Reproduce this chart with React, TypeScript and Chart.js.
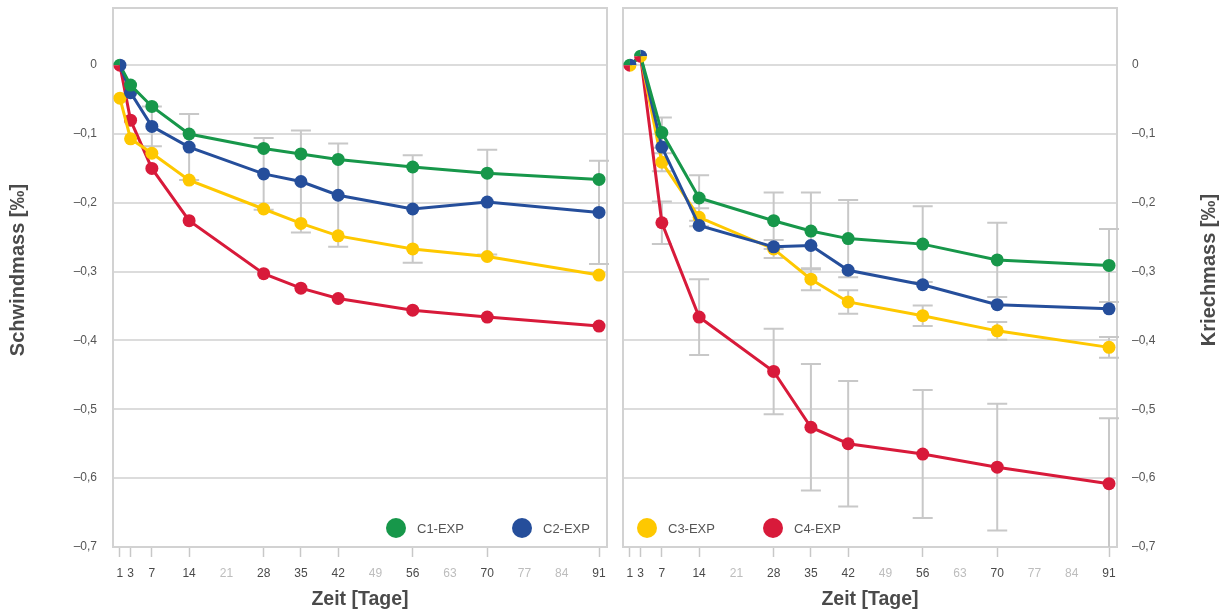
import { useEffect, useRef } from "react";
import { Chart, registerables } from "chart.js";

Chart.register(...registerables);

// Measurement ages in days
const days = [1, 3, 7, 14, 28, 35, 42, 56, 70, 91];
// Ticks on the time axis; weeks without a measurement are shown faint
const xTickDays = [1, 3, 7, 14, 21, 28, 35, 42, 49, 56, 63, 70, 77, 84, 91];
const yTickValues = [-0.7, -0.6, -0.5, -0.4, -0.3, -0.2, -0.1, 0];
const yTickLabels = ["–0,7", "–0,6", "–0,5", "–0,4", "–0,3", "–0,2", "–0,1", "0"];

const seriesNames = ["C1-EXP", "C2-EXP", "C3-EXP", "C4-EXP"];
const seriesColors = ["#17974a", "#254e9b", "#fec800", "#d81a3a"];

// Schwindmass [‰]
const schwindC1 = [0, -0.029, -0.06, -0.1, -0.121, -0.129, -0.137, -0.148, -0.157, -0.166];
const schwindC2 = [0, -0.04, -0.089, -0.119, -0.158, -0.169, -0.189, -0.209, -0.199, -0.214];
const schwindC3 = [-0.048, -0.107, -0.128, -0.167, -0.209, -0.23, -0.248, -0.267, -0.278, -0.305];
const schwindC4 = [0, -0.08, -0.15, -0.226, -0.303, -0.324, -0.339, -0.356, -0.366, -0.379];
const schwindC2Err = [null, null, 0.029, 0.048, 0.052, 0.074, 0.075, 0.078, 0.076, 0.075];

// Kriechmass [‰]
const kriechC1 = [0, 0.013, -0.098, -0.193, -0.226, -0.241, -0.252, -0.26, -0.283, -0.291];
const kriechC2 = [0, 0.013, -0.119, -0.233, -0.264, -0.262, -0.298, -0.319, -0.348, -0.354];
const kriechC3 = [0, 0.013, -0.141, -0.221, -0.267, -0.311, -0.344, -0.364, -0.386, -0.41];
const kriechC4 = [0, 0.013, -0.229, -0.366, -0.445, -0.526, -0.55, -0.565, -0.584, -0.608];
const kriechC1Err = [null, null, 0.022, 0.033, 0.041, 0.056, 0.056, 0.055, 0.054, 0.053];
const kriechC3Err = [null, null, 0.013, 0.013, 0.013, 0.016, 0.017, 0.015, 0.013, 0.015];
const kriechC4Err = [null, null, 0.031, 0.055, 0.062, 0.092, 0.091, 0.093, 0.092, 0.095];

const FONT = "'Liberation Sans', Arial, Helvetica, sans-serif";
const FRAME = "#d2d2d2";
const GRID = "#dcdcdc";
const WHISKER = "#c8c8c8";
const TITLE_COLOR = "#4a4a4a";
const TICK_COLOR = "#4a4a4a";
const FAINT_TICK = "#bdbdbd";

Chart.defaults.font.family = FONT;

type Slice = { series: number; from: number; to: number };
type Panel = {
  side: "left" | "right";
  width: number;
  yTitle: string;
  titleX: number;
  series: number[][];
  errors: { series: number; err: (number | null)[] }[];
  legend: { series: number; dx: number }[];
  sharedCount: number; // leading points drawn as one multi-coloured marker
  slices: Slice[];
  padding: { left: number; right: number; top: number; bottom: number };
  yWidth: number;
};

const H = Math.PI / 2;

const panels: Panel[] = [
  {
    side: "left",
    width: 615,
    yTitle: "Schwindmass [‰]",
    titleX: 18,
    series: [schwindC1, schwindC2, schwindC3, schwindC4],
    errors: [{ series: 1, err: schwindC2Err }],
    legend: [
      { series: 0, dx: 283 },
      { series: 1, dx: 409 },
    ],
    sharedCount: 1,
    slices: [
      { series: 0, from: 2 * H, to: 3 * H },
      { series: 1, from: -H, to: H },
      { series: 3, from: H, to: 2 * H },
    ],
    padding: { left: 0, right: 8, top: 8, bottom: 0 },
    yWidth: 113,
  },
  {
    side: "right",
    width: 609,
    yTitle: "Kriechmass [‰]",
    titleX: 594,
    series: [kriechC1, kriechC2, kriechC3, kriechC4],
    errors: [
      { series: 0, err: kriechC1Err },
      { series: 2, err: kriechC3Err },
      { series: 3, err: kriechC4Err },
    ],
    legend: [
      { series: 2, dx: 24 },
      { series: 3, dx: 150 },
    ],
    sharedCount: 2,
    slices: [
      { series: 0, from: 2 * H, to: 3 * H },
      { series: 1, from: 3 * H, to: 4 * H },
      { series: 2, from: 0, to: H },
      { series: 3, from: H, to: 2 * H },
    ],
    padding: { left: 8, right: 0, top: 8, bottom: 0 },
    yWidth: 107,
  },
];

function buildChart(canvas: HTMLCanvasElement, panel: Panel) {
  const sliceSeries = panel.slices.map((s) => s.series);

  const datasets = panel.series.map((vals, si) => ({
    label: seriesNames[si],
    data: days.map((d, i) => ({ x: d, y: vals[i] })),
    borderColor: seriesColors[si],
    backgroundColor: seriesColors[si],
    pointBackgroundColor: seriesColors[si],
    borderWidth: 3,
    pointBorderWidth: 0,
    pointRadius: vals.map((_, i) =>
      i < panel.sharedCount && sliceSeries.includes(si) ? 0 : 6.5
    ),
    tension: 0,
    clip: false as const,
  }));

  const decor = {
    id: "panelDecor",
    beforeDatasetsDraw(chart: any) {
      const { ctx, chartArea: a, scales } = chart;
      const xs = scales.x;
      const ys = scales.y;
      ctx.save();
      ctx.strokeStyle = FRAME;
      ctx.lineWidth = 2;
      ctx.strokeRect(a.left, a.top, a.right - a.left, a.bottom - a.top);

      ctx.beginPath();
      ctx.rect(a.left - 20, a.top, a.right - a.left + 40, a.bottom - a.top);
      ctx.clip();
      ctx.strokeStyle = WHISKER;
      ctx.lineWidth = 2;
      panel.errors.forEach(({ series, err }) => {
        err.forEach((e, i) => {
          if (e == null) return;
          const v = panel.series[series][i];
          const px = xs.getPixelForValue(days[i]);
          const top = ys.getPixelForValue(v + e);
          const bot = ys.getPixelForValue(v - e);
          ctx.beginPath();
          ctx.moveTo(px, top);
          ctx.lineTo(px, bot);
          ctx.moveTo(px - 10, top);
          ctx.lineTo(px + 10, top);
          ctx.moveTo(px - 10, bot);
          ctx.lineTo(px + 10, bot);
          ctx.stroke();
        });
      });
      ctx.restore();
    },
    afterDatasetsDraw(chart: any) {
      const { ctx, scales } = chart;
      ctx.save();
      for (let i = 0; i < panel.sharedCount; i++) {
        panel.slices.forEach((s) => {
          const px = scales.x.getPixelForValue(days[i]);
          const py = scales.y.getPixelForValue(panel.series[s.series][i]);
          ctx.beginPath();
          ctx.moveTo(px, py);
          ctx.arc(px, py, 6.5, s.from, s.to);
          ctx.closePath();
          ctx.fillStyle = seriesColors[s.series];
          ctx.fill();
        });
      }
      ctx.restore();
    },
    afterDraw(chart: any) {
      const { ctx, chartArea: a } = chart;
      ctx.save();
      // legend inside the plot, along the bottom
      const ly = a.bottom - 19;
      panel.legend.forEach(({ series, dx }) => {
        const cx = a.left + dx;
        ctx.beginPath();
        ctx.arc(cx, ly, 10, 0, 2 * Math.PI);
        ctx.fillStyle = seriesColors[series];
        ctx.fill();
        ctx.fillStyle = "#555555";
        ctx.font = `13px ${FONT}`;
        ctx.textAlign = "left";
        ctx.textBaseline = "middle";
        ctx.fillText(seriesNames[series], cx + 21, ly + 1);
      });
      // vertical axis title, reading bottom to top
      ctx.translate(panel.titleX, 270);
      ctx.rotate(-Math.PI / 2);
      ctx.fillStyle = TITLE_COLOR;
      ctx.font = `bold 20px ${FONT}`;
      ctx.textAlign = "center";
      ctx.textBaseline = "middle";
      ctx.fillText(panel.yTitle, 0, 0);
      ctx.restore();
    },
  };

  return new Chart(canvas, {
    type: "line",
    data: { datasets },
    plugins: [decor],
    options: {
      animation: false,
      responsive: false,
      events: [],
      layout: { padding: panel.padding },
      plugins: {
        legend: { display: false },
        tooltip: { enabled: false },
      },
      scales: {
        x: {
          type: "linear",
          min: -0.3,
          max: 92.5,
          afterBuildTicks: (s: any) => {
            s.ticks = xTickDays.map((v) => ({ value: v }));
          },
          afterFit: (s: any) => {
            s.height = 64;
            s.paddingLeft = 0;
            s.paddingRight = 0;
          },
          border: { display: false },
          grid: {
            drawOnChartArea: false,
            drawTicks: true,
            tickLength: 10,
            tickWidth: 1.5,
            tickColor: (c: any) =>
              c.tick && days.includes(c.tick.value) ? "#c8c8c8" : "rgba(0,0,0,0)",
          },
          ticks: {
            autoSkip: false,
            maxRotation: 0,
            minRotation: 0,
            padding: 9,
            font: { size: 12 },
            color: (c: any) =>
              c.tick && days.includes(c.tick.value) ? TICK_COLOR : FAINT_TICK,
            callback: (v: any) => String(v),
          },
          title: {
            display: true,
            text: "Zeit [Tage]",
            color: TITLE_COLOR,
            font: { size: 19.5, weight: "bold" },
            padding: { top: 0, bottom: 0 },
          },
        },
        y: {
          type: "linear",
          position: panel.side,
          min: -0.7,
          max: 0.083,
          afterBuildTicks: (s: any) => {
            s.ticks = yTickValues.map((v) => ({ value: v }));
          },
          afterFit: (s: any) => {
            s.width = panel.yWidth;
            s.paddingTop = 0;
            s.paddingBottom = 0;
          },
          border: { display: false },
          grid: { color: GRID, lineWidth: 2, drawTicks: false },
          ticks: {
            padding: panel.side === "left" ? 16 : 15,
            font: { size: 12 },
            color: "#555555",
            callback: (v: any) => {
              const k = yTickValues.findIndex((t) => Math.abs(t - v) < 1e-9);
              return k >= 0 ? yTickLabels[k] : "";
            },
          },
        },
      },
    } as any,
  });
}

export default function App() {
  const leftRef = useRef<HTMLCanvasElement>(null);
  const rightRef = useRef<HTMLCanvasElement>(null);

  useEffect(() => {
    const charts: Chart[] = [];
    if (leftRef.current) charts.push(buildChart(leftRef.current, panels[0]));
    if (rightRef.current) charts.push(buildChart(rightRef.current, panels[1]));
    return () => charts.forEach((c) => c.destroy());
  }, []);

  return (
    <div
      style={{
        position: "absolute",
        left: 0,
        top: 0,
        width: 1224,
        height: 611,
        background: "#ffffff",
        overflow: "hidden",
      }}
    >
      <canvas
        ref={leftRef}
        width={panels[0].width}
        height={611}
        style={{ position: "absolute", left: 0, top: 0 }}
      />
      <canvas
        ref={rightRef}
        width={panels[1].width}
        height={611}
        style={{ position: "absolute", left: panels[0].width, top: 0 }}
      />
    </div>
  );
}
